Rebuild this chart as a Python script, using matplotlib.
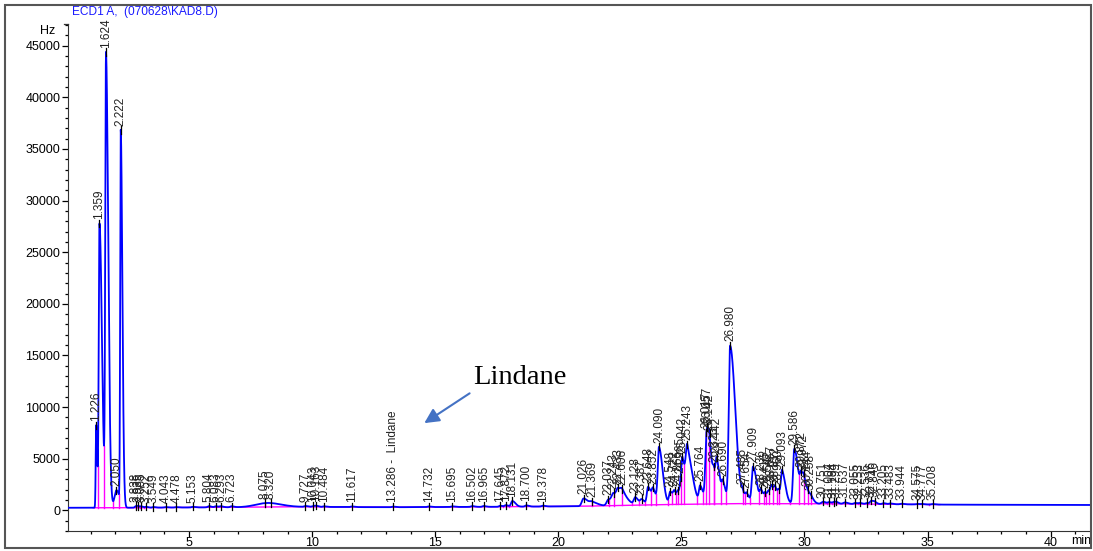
import numpy as np
import matplotlib
matplotlib.use("Agg")
import matplotlib.pyplot as plt
from matplotlib.patches import Rectangle
from matplotlib.ticker import MultipleLocator
from matplotlib.transforms import blended_transform_factory

plt.rcParams["font.family"] = ["Liberation Sans", "DejaVu Sans"]

# peak table (retention time, height above baseline, width)
peak_rt = [1.226, 1.359, 1.624, 2.050, 2.222, 2.838, 2.935, 3.065, 3.252, 3.549,
           4.043, 4.478, 5.153, 5.804, 6.083, 6.293, 6.723, 8.075, 8.320, 9.727,
           10.043, 10.163, 10.484, 11.617, 13.286, 14.732, 15.695, 16.502, 16.965, 17.645,
           17.872, 18.131, 18.700, 19.378, 21.026, 21.369, 22.037, 22.243, 22.433, 22.606,
           23.128, 23.387, 23.648, 23.852, 24.090, 24.548, 24.722, 24.865, 24.965, 25.042,
           25.243, 25.764, 26.017, 26.057, 26.142, 26.323, 26.442, 26.690, 26.980, 27.485,
           27.654, 27.909, 28.236, 28.416, 28.542, 28.667, 28.812, 28.960, 29.093, 29.586,
           29.872, 29.972, 30.144, 30.258, 30.751, 31.004, 31.194, 31.299, 31.637, 32.055,
           32.253, 32.536, 32.716, 32.846, 33.205, 33.483, 33.944, 34.575, 34.777, 35.208]
peak_height = [8000, 27500, 43400, 1700, 36000, 150, 100, 100, 80, 60,
               50, 40, 60, 120, 100, 100, 100, 250, 150, 80,
               80, 80, 60, 60, 60, 60, 60, 80, 80, 100,
               150, 550, 120, 80, 750, 350, 600, 900, 1100, 800,
               700, 500, 1700, 1200, 5400, 1200, 900, 800, 1100, 3500,
               4600, 1600, 5100, 2200, 1300, 2000, 3000, 1500, 15200, 700,
               700, 3500, 1100, 700, 800, 1300, 1000, 800, 2800, 5300,
               2000, 1000, 600, 400, 200, 150, 150, 120, 150, 100,
               100, 100, 300, 150, 100, 80, 60, 50, 50, 50]
peak_width = [0.02, 0.03, 0.03, 0.08, 0.022, 0.04, 0.04, 0.04, 0.04, 0.04,
              0.05, 0.05, 0.05, 0.05, 0.05, 0.05, 0.05, 0.45, 0.4, 0.05,
              0.05, 0.05, 0.05, 0.05, 0.05, 0.05, 0.05, 0.05, 0.05, 0.05,
              0.05, 0.05, 0.05, 0.05, 0.07, 0.09, 0.07, 0.07, 0.07, 0.08,
              0.06, 0.06, 0.05, 0.05, 0.05, 0.05, 0.05, 0.045, 0.04, 0.045,
              0.06, 0.05, 0.05, 0.05, 0.045, 0.05, 0.05, 0.05, 0.055, 0.05,
              0.05, 0.05, 0.05, 0.045, 0.045, 0.05, 0.05, 0.045, 0.045, 0.05,
              0.05, 0.045, 0.05, 0.05, 0.06, 0.05, 0.05, 0.05, 0.06, 0.05,
              0.05, 0.05, 0.05, 0.05, 0.05, 0.05, 0.05, 0.05, 0.05, 0.05]
peak_tail = [2.0, 3.3, 3.0, 1.5, 3.0, 2, 2, 2, 2, 2,
             2, 2, 2, 2, 2, 2, 2, 1.2, 1.2, 2,
             2, 2, 2, 2, 2, 2, 2, 2, 2, 2,
             2, 2.5, 2, 2, 2.5, 2.5, 2.5, 2.5, 2.5, 3,
             2, 2, 2.5, 2.5, 3, 2.5, 2.5, 2.5, 2.5, 3,
             3.5, 2.5, 3, 3, 2.5, 2.5, 3, 2.5, 3.8, 2.5,
             2.5, 3, 2.5, 2.5, 2.5, 2.5, 2.5, 2.5, 3, 3.2,
             3, 2.5, 2.5, 2.5, 2, 2, 2, 2, 2, 2,
             2, 2, 2, 2, 2, 2, 2, 2, 2, 2]
peak_label = ["%.3f" % t for t in peak_rt]
peak_label[peak_rt.index(13.286)] = "13.286 -  Lindane"

# detector baseline drift
base_t = [0, 2, 7, 9, 13, 18, 21, 24, 27, 30, 33, 36, 41.6]
base_v = [250, 250, 300, 350, 300, 350, 400, 550, 650, 650, 600, 550, 520]

t = np.linspace(0.08, 41.6, 20000)
baseline = np.interp(t, base_t, base_v)
signal = baseline.copy()
for rt, h, w, k in zip(peak_rt, peak_height, peak_width, peak_tail):
    s = np.where(t < rt, w, w * k)
    signal += h * np.exp(-0.5 * ((t - rt) / s) ** 2)

W, H = 1093, 551
fig = plt.figure(figsize=(W / 100, H / 100), dpi=100)
ax = fig.add_axes([68 / W, 1 - 531 / H, 1022 / W, 507 / H])
fig.patches.append(Rectangle((5 / W, 3 / H), 1086 / W, 543 / H, transform=fig.transFigure,
                             fill=False, edgecolor="#555555", lw=1.5))

# pink baseline and drop lines
mask = (t > 1.1) & (t < 35.5)
ax.plot(t[mask], baseline[mask], color="#ff00ff", lw=1.0, zorder=2)
for i in range(len(peak_rt) - 1):
    a, b = peak_rt[i], peak_rt[i + 1]
    if b - a < 0.6:
        sel = (t > a) & (t < b)
        j = np.argmin(signal[sel])
        tv = t[sel][j]
        ax.plot([tv, tv], [baseline[sel][j], signal[sel][j]], color="#ff00ff", lw=1.0, zorder=2)

ax.plot(t, signal, color="#0000ff", lw=1.3, zorder=3)

# retention time marks and labels
for rt, lab in zip(peak_rt, peak_label):
    yv = np.interp(rt, t, signal)
    ax.plot([rt, rt], [yv - 350, yv + 350], color="black", lw=0.9, zorder=4)
    ax.annotate(lab, xy=(rt, yv), xytext=(0, 3), textcoords="offset points",
                rotation=90, ha="center", va="bottom", fontsize=8.5, color="#222222")

ax.set_xlim(0.08, 41.6)
ax.set_ylim(-2000, 47100)
ax.xaxis.set_minor_locator(MultipleLocator(1))
ax.yaxis.set_minor_locator(MultipleLocator(1000))
ax.set_xticks([5, 10, 15, 20, 25, 30, 35, 40])
ax.set_yticks(np.arange(0, 45001, 5000))
ax.tick_params(which="major", length=4.5, width=0.9, labelsize=9, pad=1)
ax.tick_params(axis="x", which="major", pad=0)
ax.tick_params(which="minor", length=2.5, width=0.9)
ax.spines["top"].set_visible(False)
ax.spines["right"].set_visible(False)
ax.spines["left"].set_color("#333333")
ax.spines["bottom"].set_color("#333333")

trans = blended_transform_factory(ax.transAxes, ax.transData)
ax.text(-0.012, 46400, "Hz", transform=trans, ha="right", va="center", fontsize=9)
ax.plot([-0.004, 0], [47100, 47100], transform=trans, color="#333333", lw=0.9, clip_on=False)
ax.annotate("min", xy=(41.25, 0), xycoords=("data", "axes fraction"), xytext=(0, -3.2),
            textcoords="offset points", ha="center", va="top", fontsize=9)

fig.text(72 / W, 1 - 12 / H, "ECD1 A,  (070628\\KAD8.D)", color="#1a1aff", fontsize=8.6, va="center")

# Lindane call-out
ax.annotate("", xy=(14.46, 8300), xytext=(16.49, 11480),
            arrowprops=dict(arrowstyle="-|>", mutation_scale=22, color="#4472c4", lw=1.5))
ax.text(16.55, 12850, "Lindane", family="Liberation Serif", fontsize=20.5, va="center", ha="left")

fig.savefig("out.png", dpi=100)
